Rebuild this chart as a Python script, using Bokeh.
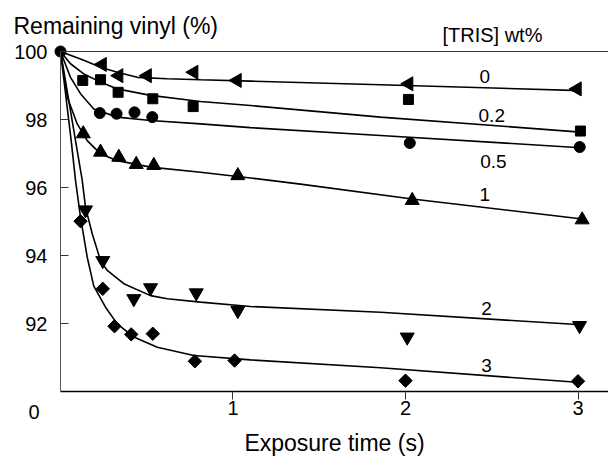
from bokeh.plotting import figure
from bokeh.models import Range1d, FixedTicker, Label, LinearAxis
from bokeh.embed import file_html
from bokeh.resources import INLINE
from bokeh.core.properties import value
import numpy as np

FONT = "Liberation Sans"

# ---- measured points ----
s0_x = [0, 0.242, 0.338, 0.503, 0.773, 1.024, 2.019, 2.995]
s0_y = [100, 99.62, 99.29, 99.29, 99.39, 99.15, 99.05, 98.90]

s02_x = [0.129, 0.232, 0.334, 0.535, 0.769, 2.017, 3.014]
s02_y = [99.15, 99.17, 98.80, 98.61, 98.38, 98.59, 97.66]

s05_x = [0.228, 0.325, 0.429, 0.532, 2.025, 3.010]
s05_y = [98.19, 98.17, 98.21, 98.07, 97.31, 97.19]

s1_x = [0.132, 0.232, 0.338, 0.439, 0.541, 1.028, 2.039, 3.024]
s1_y = [97.58, 97.04, 96.89, 96.68, 96.65, 96.35, 95.62, 95.05]

s2_x = [0.145, 0.245, 0.425, 0.522, 0.787, 1.028, 2.010, 3.009]
s2_y = [95.34, 93.85, 92.73, 93.05, 92.90, 92.38, 91.60, 91.94]

s3_x = [0.116, 0.245, 0.313, 0.410, 0.535, 0.779, 1.009, 2.000, 3.000]
s3_y = [95.01, 93.02, 91.92, 91.68, 91.70, 90.89, 90.91, 90.32, 90.30]

# ---- fitted curves ----
c0_x = [0, 0.135, 0.232, 0.329, 0.445, 0.619, 0.812, 1.101, 1.855, 3.014]
c0_y = [100, 99.74, 99.54, 99.39, 99.24, 99.20, 99.17, 99.13, 99.02, 98.85]

c02_x = [0, 0.058, 0.135, 0.232, 0.329, 0.522, 0.812, 1.101, 1.855, 3.014]
c02_y = [100, 99.64, 99.34, 99.10, 98.90, 98.71, 98.53, 98.41, 98.07, 97.63]

c05_x = [0, 0.058, 0.116, 0.193, 0.329, 0.522, 0.812, 1.101, 1.855, 3.014]
c05_y = [100, 99.24, 98.76, 98.31, 98.07, 97.97, 97.87, 97.76, 97.53, 97.17]

c1_x = [0, 0.039, 0.097, 0.155, 0.232, 0.329, 0.522, 0.812, 1.101, 1.391, 2.039, 3.014]
c1_y = [100, 98.66, 97.87, 97.38, 96.99, 96.79, 96.60, 96.45, 96.28, 96.10, 95.66, 95.08]

c2_x = [0, 0.126, 0.145, 0.184, 0.232, 0.271, 0.367, 0.522, 0.619, 0.812, 1.101, 1.855, 2.995]
c2_y = [100, 96.21, 95.42, 94.64, 93.85, 93.56, 93.17, 92.82, 92.73, 92.63, 92.50, 92.33, 91.97]

c3_x = [0, 0.062, 0.087, 0.116, 0.155, 0.193, 0.261, 0.329, 0.425, 0.561, 0.773, 1.101, 1.855, 2.995]
c3_y = [100, 97.38, 96.21, 95.13, 93.95, 93.10, 92.48, 91.99, 91.60, 91.30, 91.06, 90.93, 90.70, 90.27]

# ---- series labels ----
lab_text = ["0", "0.2", "0.5", "1", "2", "3"]
lab_x = [2.46, 2.50, 2.51, 2.46, 2.47, 2.47]
lab_y = [99.27, 98.12, 96.76, 95.80, 92.44, 90.76]

x_ticks = [1, 2, 3]
y_ticks = [92, 94, 96, 98, 100]
x_min, x_max = 0, 3.1768
y_min, y_max = 90, 100

p = figure(width=608, height=457, output_backend="svg", toolbar_location=None,
           x_range=Range1d(-0.3478, x_max), y_range=Range1d(88.059, 101.5),
           min_border=0)
p.outline_line_color = None
p.grid.visible = False
p.background_fill_color = "white"

# axes drawn at fixed data positions (x = 0, y = 90)
xa = p.xaxis[0]
ya = p.yaxis[0]
xa.fixed_location = y_min
ya.fixed_location = x_min
xa.bounds = (x_min, x_max)
ya.bounds = (y_min, y_max)
xa.ticker = FixedTicker(ticks=x_ticks)
ya.ticker = FixedTicker(ticks=y_ticks)
for ax in (xa, ya):
    ax.minor_tick_line_color = None
    ax.major_label_text_font = FONT
    ax.major_label_text_font_size = "20px"
    ax.major_label_text_color = "black"
    ax.major_tick_line_color = "#333333"
ya.axis_line_color = "#555555"
ya.axis_line_width = 1
ya.major_tick_in = 8
ya.major_tick_out = 0
ya.major_label_standoff = 13
xa.axis_line_color = "black"
xa.axis_line_width = 1.5
xa.major_tick_in = 0
xa.major_tick_out = 8
xa.major_label_standoff = 1
xa.axis_label = "Exposure time (s)"
xa.axis_label_text_font = FONT
xa.axis_label_text_font_size = "23px"
xa.axis_label_text_font_style = "normal"
xa.axis_label_text_color = "black"
xa.axis_label_standoff = 12

# top frame line at y = 100
top = LinearAxis(fixed_location=y_max, bounds=(x_min, x_max), ticker=FixedTicker(ticks=[]),
                 axis_line_color="#333333", axis_line_width=1.2,
                 major_tick_line_color=None, minor_tick_line_color=None,
                 major_label_text_color=None)
p.add_layout(top, "above")

# curves
for cx, cy in [(c0_x, c0_y), (c02_x, c02_y), (c05_x, c05_y), (c1_x, c1_y), (c2_x, c2_y), (c3_x, c3_y)]:
    p.line(cx, cy, line_color="black", line_width=1.6)

# markers
p.scatter(s0_x[1:], s0_y[1:], marker="triangle", angle=np.pi / 2, size=14, color="black")
p.scatter(s0_x[:1], s0_y[:1], marker="circle", size=11, color="black")
p.scatter(s02_x, s02_y, marker="square", size=10, color="black")
p.scatter(s05_x, s05_y, marker="circle", size=11, color="black")
p.scatter(s1_x, s1_y, marker="triangle", size=14, color="black")
p.scatter(s2_x, s2_y, marker="inverted_triangle", size=14, color="black")
p.scatter(s3_x, s3_y, marker="square", angle=np.pi / 4, size=9.5, color="black")

# series labels
p.text(lab_x, lab_y, text=lab_text, text_font=value(FONT), text_font_size="19px",
       text_align="center", text_baseline="middle", text_color="black")

# titles
p.add_layout(Label(x=x_min, y=y_max, x_offset=-47, y_offset=25.5, text="Remaining vinyl (%)",
                   text_font=FONT, text_font_size="23px", text_baseline="middle",
                   text_align="left", text_color="black"))
p.add_layout(Label(x=2.504, y=y_max, y_offset=17, text="[TRIS] wt%",
                   text_font=FONT, text_font_size="20px", text_baseline="middle",
                   text_align="center", text_color="black"))
p.add_layout(Label(x=x_min, y=y_min, x_offset=-26.5, y_offset=-20, text="0",
                   text_font=FONT, text_font_size="20px", text_baseline="middle",
                   text_align="center", text_color="black"))

open("out.html", "w").write(file_html(p, INLINE))
